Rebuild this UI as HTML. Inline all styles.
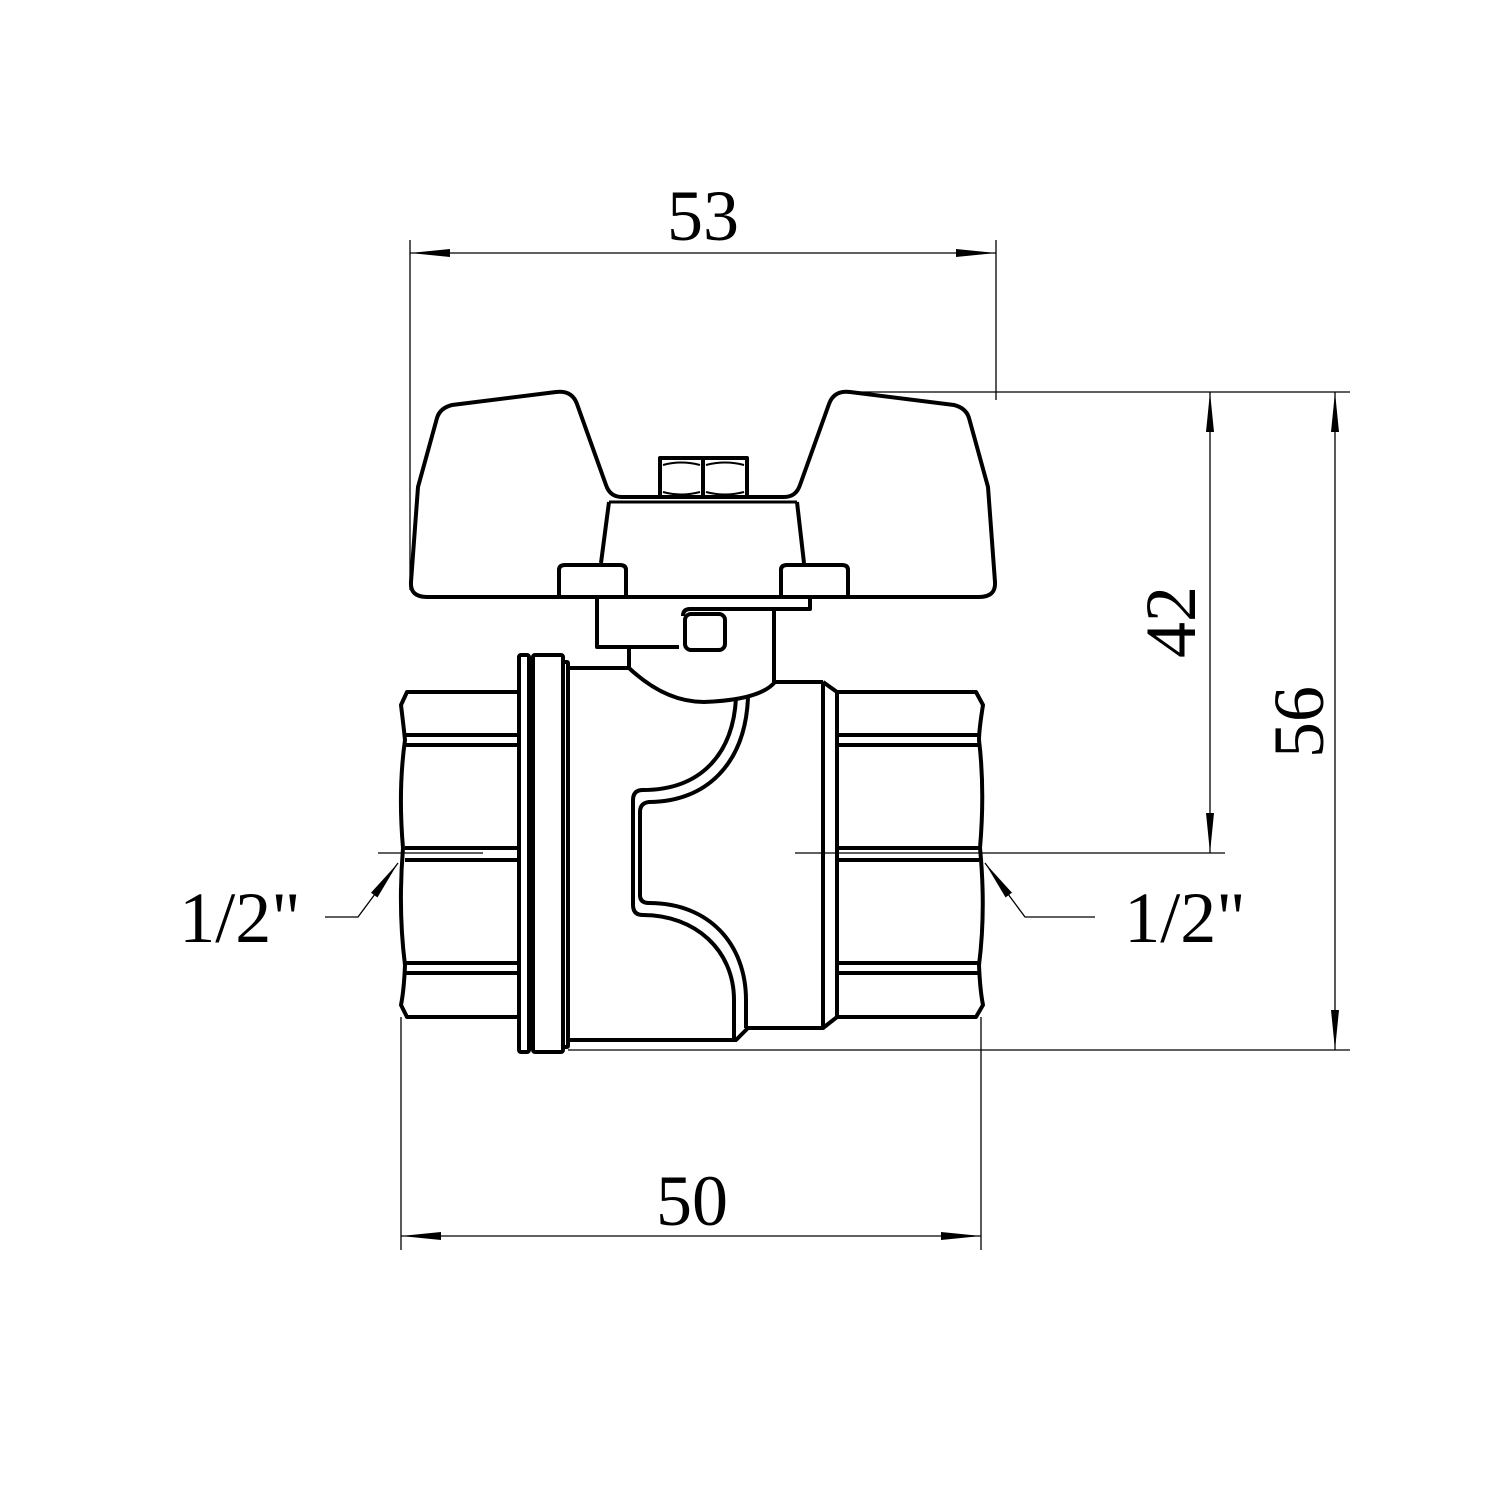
<!DOCTYPE html>
<html><head><style>html,body{margin:0;padding:0;background:#fff}svg{display:block}</style></head><body>
<svg width="1500" height="1500" viewBox="0 0 1500 1500" xmlns="http://www.w3.org/2000/svg">
<defs>
<marker id="ar" viewBox="0 0 40 10" refX="40" refY="5" markerWidth="40" markerHeight="10" markerUnits="userSpaceOnUse" orient="auto-start-reverse">
<path d="M0,1 L40,5 L0,9 Z" fill="#000"/>
</marker>
</defs>
<g fill="none" stroke="#000" stroke-width="1.3">
<line x1="410" y1="240" x2="410" y2="590"/>
<line x1="996" y1="240" x2="996" y2="400"/>
<line x1="410" y1="253" x2="996" y2="253" marker-start="url(#ar)" marker-end="url(#ar)"/>
<line x1="848" y1="392" x2="1350" y2="392"/>
<line x1="568" y1="1050" x2="1350" y2="1050"/>
<line x1="795" y1="853" x2="1225" y2="853"/>
<line x1="378" y1="853" x2="483" y2="853"/>
<line x1="1210" y1="392" x2="1210" y2="853" marker-start="url(#ar)" marker-end="url(#ar)"/>
<line x1="1335" y1="392" x2="1335" y2="1050" marker-start="url(#ar)" marker-end="url(#ar)"/>
<line x1="401" y1="1017" x2="401" y2="1250"/>
<line x1="981" y1="1017" x2="981" y2="1250"/>
<line x1="401" y1="1236" x2="981" y2="1236" marker-start="url(#ar)" marker-end="url(#ar)"/>
<polyline points="325,917 358,917 398,863" marker-end="url(#ar)"/>
<polyline points="1095,917 1025,917 985,863" marker-end="url(#ar)"/>
</g>
<g fill="none" stroke="#000" stroke-width="4" stroke-linejoin="round">
<path d="M622,497 Q610,497 606,485 L577,404 Q572,390 556,392 L452,405 Q440,408 437,418 L418,487 L411,582 Q410,597 427,597 L979,597 Q996,597 995,582 L988,487 L969,418 Q966,408 954,405 L850,392 Q834,390 829,404 L800,485 Q796,497 784,497 Z"/>
<line x1="609" y1="502" x2="797" y2="502" stroke-width="3"/>
<path d="M609,502 L601,563 M797,502 L804,563"/>
<path d="M660,495 L660,458 L747,458 L747,495"/>
<line x1="703" y1="460" x2="703" y2="495"/>
<path d="M663,465 Q681,460 700,465 M706,465 Q725,460 744,465 M663,492 Q681,497 700,492 M706,492 Q725,497 744,492" stroke-width="2"/>
<path d="M559,595 L559,570 Q559,565 565,565 L620,565 Q626,565 626,570 L626,595"/>
<path d="M781,595 L781,570 Q781,565 787,565 L842,565 Q848,565 848,570 L848,595"/>
<path d="M597,597 L597,647 L679,647"/>
<path d="M810,597 L810,609 L690,609 Q683,609 683,616"/>
<line x1="774" y1="609" x2="774" y2="682"/>
<rect x="685" y="614" width="40" height="36" rx="6"/>
<path d="M629,647 L629,668 L568,668"/>
<path d="M629,668 Q665,702 704,702 Q760,700 775,682"/>
<line x1="775" y1="682" x2="823" y2="682"/>
<path d="M518,692 L407,692 L401,705 Q404,730 405,740 Q398,790 403,848 Q398,910 405,965 Q404,990 401,1005 L407,1017 L518,1017"/>
<line x1="405" y1="735" x2="518" y2="735"/><line x1="405" y1="745" x2="518" y2="745"/>
<line x1="405" y1="848" x2="518" y2="848"/><line x1="405" y1="860" x2="518" y2="860"/>
<line x1="405" y1="963" x2="518" y2="963"/><line x1="405" y1="973" x2="518" y2="973"/>
<rect x="519" y="655" width="10" height="397" rx="2"/>
<rect x="533" y="655" width="30" height="397" rx="2"/>
<rect x="563" y="662" width="5" height="385" rx="1"/>
<path d="M568,1040 L736,1040 L748,1028 L823,1028 L823,682"/>
<path d="M823,682 L837,692 L837,1017 L823,1028"/>
<path d="M837,692 L976,692 L983,705 Q979,730 979,740 Q985,790 980,848 Q986,910 979,965 Q980,990 983,1005 L976,1017 L837,1017"/>
<line x1="837" y1="735" x2="979" y2="735"/><line x1="837" y1="745" x2="979" y2="745"/>
<line x1="837" y1="848" x2="979" y2="848"/><line x1="837" y1="860" x2="979" y2="860"/>
<line x1="837" y1="963" x2="979" y2="963"/><line x1="837" y1="973" x2="979" y2="973"/>
<path d="M736,698 C733,755 700,790 643,790 Q633,790 633,800 L633,905 Q633,915 643,915 C695,915 734,950 734,1000 L734,1040"/>
<path d="M748,698 C745,765 705,802 649,802 Q640,803 640,812 L640,895 Q640,903 649,903 C710,903 746,945 746,1000 L746,1028"/>
</g>
<g font-family="'Liberation Serif', serif" font-size="72" fill="#000">
<text x="703" y="240" text-anchor="middle">53</text>
<text x="692" y="1225" text-anchor="middle">50</text>
<text x="240" y="942" text-anchor="middle">1/2"</text>
<text x="1185" y="942" text-anchor="middle">1/2"</text>
<text transform="translate(1195,622) rotate(-90)" text-anchor="middle">42</text>
<text transform="translate(1323,722) rotate(-90)" text-anchor="middle">56</text>
</g>
</svg>
</body></html>
